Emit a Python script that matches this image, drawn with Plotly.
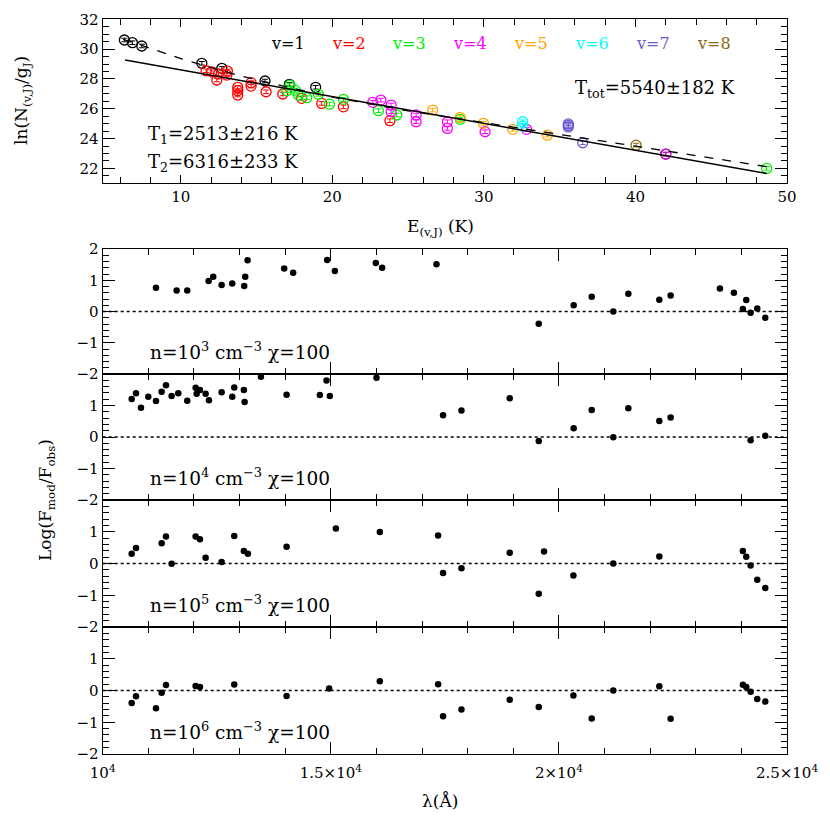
import plotly.graph_objects as go

# ---- top panel: excitation diagram, E in 10^3 K, ln(N/g)
e_v1 = [6.28, 6.81, 7.43, 11.39, 12.71, 15.56, 17.17, 18.90, 42.0]
n_v1 = [30.61, 30.43, 30.21, 29.05, 28.71, 27.86, 27.64, 27.44, 22.96]
e_v2 = [11.67, 12.05, 12.49, 12.38, 13.08, 13.04, 13.76, 13.76, 13.76, 14.64, 14.64,
        15.63, 16.73, 17.98, 19.30, 20.73, 23.80]
n_v2 = [28.55, 28.48, 28.33, 27.93, 28.53, 28.26, 27.44, 27.21, 26.92, 27.75, 27.52,
        27.14, 26.99, 26.70, 26.36, 26.13, 25.20]
e_v3 = [17.21, 16.99, 17.54, 17.76, 18.31, 19.08, 19.81, 20.73, 23.04, 24.25, 28.43, 48.66]
n_v3 = [27.59, 27.21, 27.25, 26.92, 26.74, 26.97, 26.31, 26.63, 25.87, 25.58, 25.29, 22.0]
e_v4 = [22.67, 23.20, 23.88, 23.88, 25.53, 25.53, 27.59, 27.59, 30.08, 32.82, 42.0]
n_v4 = [26.43, 26.58, 26.25, 25.80, 25.58, 25.13, 25.13, 24.68, 24.46, 24.62, 22.96]
e_v5 = [26.62, 28.43, 29.97, 31.90, 34.19]
n_v5 = [25.91, 25.42, 25.02, 24.62, 24.23]
e_v6 = [32.56, 32.56]
n_v6 = [25.13, 24.84]
e_v7 = [35.57, 35.57, 35.57, 36.52]
n_v7 = [24.98, 24.88, 24.78, 23.72]
e_v8 = [40.04]
n_v8 = [23.56]

# fits
fit_tot_e = [6.33, 48.66]
fit_tot_n = [29.27, 21.66]
fit_two_e = [6.2, 8, 10, 12, 14, 17, 20, 25, 30, 35, 40, 45, 48.7]
fit_two_n = [30.66, 30.03, 29.37, 28.76, 28.19, 27.46, 26.78, 25.86, 25.09, 24.28, 23.49, 22.70, 22.11]

# ---- lower panels: log(Fmod/Fobs) vs wavelength (Angstrom)
lam1 = [11168, 11621, 11853, 12322, 12423, 12607, 12840, 13102, 13124, 13176, 13978, 14175,
        14920, 15089, 15987, 16125, 17316, 19558, 20324, 20719, 21193, 21522, 22201, 22449,
        23530, 23836, 24107, 24033, 24202, 24348, 24523]
r1 = [0.76, 0.67, 0.67, 0.98, 1.11, 0.85, 0.90, 0.82, 1.11, 1.64, 1.38, 1.24,
      1.65, 1.30, 1.55, 1.40, 1.51, -0.39, 0.20, 0.47, 0.00, 0.57, 0.38, 0.51,
      0.74, 0.60, 0.37, 0.08, -0.04, 0.10, -0.20]
lam2 = [10635, 10730, 10839, 10999, 11168, 11292, 11387, 11511, 11656, 11853, 12037, 12059,
        12131, 12256, 12329, 12607, 12840, 12883, 13095, 13111, 13468, 14031, 14760, 14906,
        14979, 16002, 17461, 17864, 18922, 19558, 20324, 20719, 21193, 21522, 22201, 22449,
        24202, 24523]
r2 = [1.21, 1.39, 0.93, 1.28, 1.14, 1.44, 1.64, 1.30, 1.39, 1.15, 1.56, 1.37,
      1.49, 1.37, 1.17, 1.42, 1.28, 1.57, 1.49, 1.11, 1.91, 1.34, 1.33, 1.79,
      1.30, 1.88, 0.69, 0.84, 1.23, -0.13, 0.28, 0.86, -0.01, 0.91, 0.51, 0.62,
      -0.10, 0.04]
lam3 = [10635, 10730, 11292, 11387, 11511, 12037, 12131, 12256, 12607, 12883, 13095, 13183,
        14031, 15111, 16074, 17352, 17461, 17864, 18922, 19558, 19674, 20318, 21193, 22201,
        24033, 24107, 24202, 24348, 24523]
r3 = [0.31, 0.49, 0.64, 0.85, -0.01, 0.85, 0.76, 0.18, 0.05, 0.87, 0.39, 0.31,
      0.53, 1.10, 0.99, 0.88, -0.30, -0.15, 0.34, -0.95, 0.38, -0.38, 0.00, 0.22,
      0.39, 0.21, -0.06, -0.51, -0.77]
lam4 = [10635, 10730, 11168, 11292, 11387, 12037, 12131, 12883, 14031, 14964, 16074, 17352,
        17461, 17864, 18922, 19558, 20318, 20719, 21193, 22201, 22449, 24033, 24107, 24202,
        24348, 24523]
r4 = [-0.39, -0.18, -0.56, -0.07, 0.17, 0.14, 0.11, 0.19, -0.17, 0.06, 0.29, 0.20,
      -0.81, -0.60, -0.29, -0.52, -0.16, -0.88, 0.00, 0.13, -0.89, 0.18, 0.11, -0.04,
      -0.27, -0.35]
panel_labels = ["n=10<sup>3</sup> cm<sup>−3</sup> χ=100", "n=10<sup>4</sup> cm<sup>−3</sup> χ=100",
                "n=10<sup>5</sup> cm<sup>−3</sup> χ=100", "n=10<sup>6</sup> cm<sup>−3</sup> χ=100"]

FONT = "DejaVu Serif"
W = H = 830
PAGE_OFFSET = 8  # default body margin of the html page


def py(p):
    # page pixel row -> paper y
    return 1 - (p - PAGE_OFFSET) / H


def px(p):
    return (p - PAGE_OFFSET) / W


x0, x1 = px(102.7), px(787)
edges = [249, 374, 500, 627, 754]

axis_common = dict(
    showline=True, linecolor="black", linewidth=1.3, mirror="allticks", automargin=False,
    ticks="inside", tickwidth=1.2, tickcolor="black", showgrid=False, zeroline=False,
    tickfont=dict(family=FONT, size=15, color="black"),
)

fig = go.Figure()

groups = [
    (e_v1, n_v1, "black"), (e_v2, n_v2, "#ff0000"), (e_v3, n_v3, "#00ee00"),
    (e_v4, n_v4, "#ff00ff"), (e_v5, n_v5, "#ffa500"), (e_v6, n_v6, "#00ffff"),
    (e_v7, n_v7, "#6a5acd"), (e_v8, n_v8, "#8b6914"),
]
for e, n, c in groups:
    fig.add_trace(go.Scatter(
        x=e, y=n, mode="markers", xaxis="x", yaxis="y", showlegend=False,
        marker=dict(symbol="circle-open", size=10, color=c, line=dict(width=1.3, color=c)),
        error_y=dict(type="constant", value=0.12, width=3, thickness=1, color=c),
    ))

fig.add_trace(go.Scatter(x=fit_tot_e, y=fit_tot_n, mode="lines", xaxis="x", yaxis="y",
                         line=dict(color="black", width=1.5), showlegend=False))
fig.add_trace(go.Scatter(x=fit_two_e, y=fit_two_n, mode="lines", xaxis="x", yaxis="y",
                         line=dict(color="black", width=1.3, dash="dash"), showlegend=False))

panels = [(lam1, r1), (lam2, r2), (lam3, r3), (lam4, r4)]
for i, (lam, r) in enumerate(panels):
    k = i + 2
    fig.add_trace(go.Scatter(
        x=lam, y=r, mode="markers", xaxis=f"x{k}", yaxis=f"y{k}", showlegend=False,
        marker=dict(size=6.5, color="black"),
    ))

layout = dict(
    width=W, height=H, autosize=False,
    margin=dict(l=0, r=0, t=0, b=0, autoexpand=False),
    paper_bgcolor="white", plot_bgcolor="white",
    font=dict(family=FONT, color="black"),
    xaxis=dict(axis_common, domain=[x0, x1], anchor="y", range=[4.85, 50.0],
               tickvals=[10, 20, 30, 40, 50], ticklen=8,
               minor=dict(ticks="inside", dtick=2, tick0=0, ticklen=6, tickwidth=1.2, tickcolor="black")),
    yaxis=dict(axis_common, domain=[py(183.3), py(19.3)], anchor="x", range=[21, 32],
               tickvals=[22, 24, 26, 28, 30, 32], ticklen=12,
               minor=dict(ticks="inside", dtick=0.5, ticklen=6, tickwidth=1.2, tickcolor="black")),
)

shapes = []
for i in range(4):
    k = i + 2
    last = i == 3
    layout[f"xaxis{k}"] = dict(
        axis_common, domain=[x0, x1], anchor=f"y{k}", range=[10000, 25000],
        tickvals=[10000, 15000, 20000, 25000],
        ticktext=["10<sup>4</sup>", "1.5×10<sup>4</sup>", "2×10<sup>4</sup>", "2.5×10<sup>4</sup>"],
        showticklabels=last, ticklen=12, ticklabelstandoff=5,
        minor=dict(ticks="inside", dtick=1000, ticklen=6, tickwidth=1.2, tickcolor="black"),
    )
    layout[f"yaxis{k}"] = dict(
        axis_common, domain=[py(edges[i + 1]), py(edges[i])], anchor=f"x{k}", range=[-2, 2],
        tickvals=[-2, -1, 0, 1, 2] if i == 0 else [-2, -1, 0, 1], ticklen=12,
        minor=dict(ticks="inside", dtick=0.2, ticklen=6, tickwidth=1.2, tickcolor="black"),
    )
    shapes.append(dict(type="line", xref=f"x{k} domain", yref=f"y{k}", x0=0, x1=1, y0=0, y1=0,
                       line=dict(color="black", width=1.5, dash="dot")))

ann = []
legend_text = ["v=1", "v=2", "v=3", "v=4", "v=5", "v=6", "v=7", "v=8"]
legend_x = [287.5, 349, 409, 470, 531, 591.5, 652.5, 713.5]
for t, xx, (_, _, c) in zip(legend_text, legend_x, groups):
    ann.append(dict(text=t, x=px(xx), y=py(43.5), font=dict(size=16, color=c, family=FONT)))

ann += [
    dict(text="T<sub>tot</sub>=5540±182 K", x=px(573), y=py(89), xanchor="left", font=dict(size=18)),
    dict(text="T<sub>1</sub>=2513±216 K", x=px(146), y=py(135), xanchor="left", font=dict(size=18)),
    dict(text="T<sub>2</sub>=6316±233 K", x=px(146), y=py(163), xanchor="left", font=dict(size=18)),
    dict(text="E<sub>(v,J)</sub> (K)", x=px(440), y=py(227), font=dict(size=17)),
    dict(text="λ(Å)", x=px(440), y=py(801), font=dict(size=17)),
    dict(text="ln(N<sub>(v,J)</sub>/g<sub>J</sub>)", x=px(22), y=py(101), textangle=-90, font=dict(size=17)),
    dict(text="Log(F<sub>mod</sub>/F<sub>obs</sub>)", x=px(46), y=py(500), textangle=-90, font=dict(size=17)),
]
for i, lab in enumerate(panel_labels):
    ann.append(dict(text=lab, x=px(148), y=py(edges[i + 1] - 23), xanchor="left", font=dict(size=18.5)))

for a in ann:
    a.setdefault("xref", "paper")
    a.setdefault("yref", "paper")
    a.setdefault("showarrow", False)
    a.setdefault("xanchor", "center")
    a.setdefault("yanchor", "middle")
    a["font"] = dict(dict(family=FONT, color="black"), **a["font"])

layout["annotations"] = ann
layout["shapes"] = shapes
fig.update_layout(**layout)

fig.write_html("out.html")
